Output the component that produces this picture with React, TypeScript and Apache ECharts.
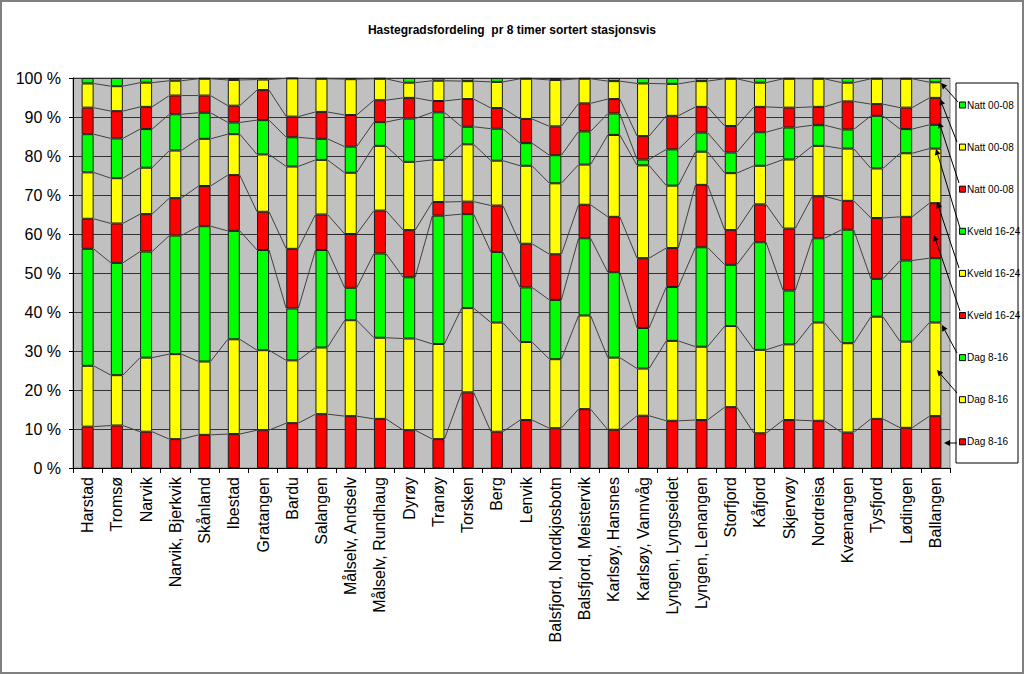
import React, { useEffect, useRef } from "react";
import * as echarts from "echarts";

const categories = [
  "Harstad", "Tromsø", "Narvik", "Narvik, Bjerkvik", "Skånland", "Ibestad", "Gratangen", "Bardu",
  "Salangen", "Målselv, Andselv", "Målselv, Rundhaug", "Dyrøy", "Tranøy", "Torsken", "Berg", "Lenvik",
  "Balsfjord, Nordkjosbotn", "Balsfjord, Meistervik", "Karlsøy, Hansnes", "Karlsøy, Vannvåg",
  "Lyngen, Lyngseidet", "Lyngen, Lenangen", "Storfjord", "Kåfjord", "Skjervøy", "Nordreisa",
  "Kvænangen", "Tysfjord", "Lødingen", "Ballangen",
];

const dagRed = [10.6, 10.9, 9.3, 7.4, 8.5, 8.7, 9.7, 11.5, 13.8, 13.3, 12.6, 9.7, 7.4, 19.4, 9.3, 12.3, 10.2, 15.1, 9.8, 13.4, 12.1, 12.3, 15.6, 8.9, 12.3, 12.1, 9.1, 12.6, 10.3, 13.3];
const dagYellow = [15.6, 12.9, 19.0, 21.8, 18.8, 24.3, 20.5, 16.1, 17.1, 24.6, 20.8, 23.5, 24.4, 21.6, 28.0, 20.0, 17.7, 24.0, 18.5, 12.1, 20.5, 18.8, 20.8, 21.4, 19.4, 25.2, 22.9, 26.2, 22.1, 24.0];
const dagGreen = [30.0, 28.8, 27.2, 30.4, 34.7, 27.8, 25.7, 13.3, 25.0, 8.3, 21.6, 15.7, 32.9, 24.1, 18.1, 14.0, 15.2, 19.8, 21.9, 10.4, 13.8, 25.5, 15.7, 27.6, 13.8, 21.6, 29.1, 9.7, 20.8, 16.5];
const kveldRed = [7.7, 10.1, 9.6, 9.6, 10.3, 14.3, 9.8, 15.3, 9.1, 13.8, 11.0, 12.1, 3.5, 3.2, 11.9, 11.2, 11.7, 8.6, 14.2, 17.9, 10.0, 16.0, 8.9, 9.7, 15.9, 10.8, 7.4, 15.6, 11.2, 14.1];
const kveldYellow = [11.9, 11.6, 11.9, 12.2, 12.1, 10.5, 14.7, 21.1, 14.0, 15.7, 16.6, 17.5, 10.8, 14.7, 11.5, 20.0, 18.2, 10.3, 21.0, 23.8, 16.0, 8.5, 14.6, 9.9, 17.7, 12.9, 13.4, 12.7, 16.3, 14.0];
const kveldGreen = [9.8, 10.2, 9.9, 9.3, 6.7, 3.0, 8.8, 7.5, 5.4, 6.7, 6.1, 11.1, 12.2, 4.5, 8.2, 5.8, 7.2, 8.5, 5.5, 1.5, 9.3, 4.9, 5.3, 8.6, 8.2, 5.3, 4.9, 13.5, 6.2, 6.1];
const nattRed = [6.8, 7.0, 5.7, 4.8, 4.4, 4.3, 7.7, 5.3, 6.9, 8.1, 5.6, 5.3, 2.9, 7.1, 5.3, 6.2, 7.4, 7.2, 3.7, 6.0, 8.6, 6.6, 6.8, 6.5, 5.1, 4.7, 7.2, 3.0, 5.5, 6.9];
const nattYellow = [6.2, 6.4, 6.2, 3.8, 4.3, 6.6, 2.7, 9.8, 8.5, 9.2, 5.5, 3.9, 5.2, 4.6, 6.7, 10.3, 11.9, 6.3, 4.6, 13.5, 8.2, 6.6, 12.1, 6.2, 7.4, 7.2, 4.8, 6.5, 7.4, 4.0];
const nattGreen = [1.4, 2.1, 1.2, 0.7, 0.2, 0.5, 0.4, 0.1, 0.2, 0.3, 0.2, 1.2, 0.7, 0.8, 1.0, 0.2, 0.5, 0.2, 0.8, 1.4, 1.5, 0.8, 0.2, 1.2, 0.2, 0.2, 1.2, 0.2, 0.2, 1.1];

const yTicks = [0, 10, 20, 30, 40, 50, 60, 70, 80, 90, 100];

const RED = "#FF0000";
const YELLOW = "#FFFF00";
const GREEN = "#00FF00";
const FONT = "'Liberation Sans', Arial, sans-serif";
const BAR_W = 12;

const seriesDefs = [
  { name: "Dag 8-16", key: "dagRed", data: dagRed, color: RED },
  { name: "Dag 8-16", key: "dagYellow", data: dagYellow, color: YELLOW },
  { name: "Dag 8-16", key: "dagGreen", data: dagGreen, color: GREEN },
  { name: "Kveld 16-24", key: "kveldRed", data: kveldRed, color: RED },
  { name: "Kveld 16-24", key: "kveldYellow", data: kveldYellow, color: YELLOW },
  { name: "Kveld 16-24", key: "kveldGreen", data: kveldGreen, color: GREEN },
  { name: "Natt 00-08", key: "nattRed", data: nattRed, color: RED },
  { name: "Natt 00-08", key: "nattYellow", data: nattYellow, color: YELLOW },
  { name: "Natt 00-08", key: "nattGreen", data: nattGreen, color: GREEN },
];

// cumulative tops of each stacked series (for Excel-style series lines)
const cumLevels: number[][] = [];
{
  const run = categories.map(() => 0);
  seriesDefs.forEach((s, k) => {
    s.data.forEach((v, i) => (run[i] += v));
    if (k < seriesDefs.length - 1) cumLevels.push(run.slice());
  });
}

function arrow(x1: number, y1: number, x2: number, y2: number) {
  const ang = Math.atan2(y2 - y1, x2 - x1);
  const L = 6, W = 3;
  const bx = x2 - L * Math.cos(ang), by = y2 - L * Math.sin(ang);
  const px = -Math.sin(ang) * W, py = Math.cos(ang) * W;
  return [
    { type: "line", shape: { x1, y1, x2: bx, y2: by }, style: { stroke: "#000", lineWidth: 1 }, z: 50 },
    {
      type: "polygon",
      shape: { points: [[x2, y2], [bx + px, by + py], [bx - px, by - py]] },
      style: { fill: "#000" },
      z: 50,
    },
  ];
}

export default function App() {
  const ref = useRef<HTMLDivElement>(null);
  useEffect(() => {
    if (!ref.current) return;
    const chart = echarts.init(ref.current, undefined, { renderer: "svg" });

    const legendEntries = [...seriesDefs].reverse();
    const legendTop = 105;
    const legendStep = 42.1;
    const legendChildren: any[] = [
      { type: "rect", shape: { x: 956, y: 83, width: 62, height: 380 }, style: { fill: "#fff", stroke: "#000", lineWidth: 1 } },
    ];
    legendEntries.forEach((s, j) => {
      const cy = legendTop + j * legendStep;
      legendChildren.push({
        type: "rect",
        shape: { x: 959.5, y: cy - 3, width: 6, height: 6 },
        style: { fill: s.color, stroke: "#000", lineWidth: 1 },
      });
      legendChildren.push({
        type: "text",
        x: 967,
        y: cy,
        style: { text: s.name, fontSize: 10, fontFamily: FONT, fill: "#000", verticalAlign: "middle", align: "left" },
      });
    });

    const arrows = [
      [958, 102, 941, 83],
      [957, 142, 940, 99],
      [959, 183, 939, 122],
      [960, 228, 936, 149],
      [959, 268, 937, 202],
      [960, 311, 934, 235],
      [957, 353, 942, 325],
      [957, 393, 937, 370],
      [957, 443, 944, 443],
    ].flatMap(([a, b, c, d]) => arrow(a, b, c, d));

    const option: any = {
      animation: false,
      backgroundColor: "#ffffff",
      textStyle: { fontFamily: FONT },
      title: {
        text: "Hastegradsfordeling  pr 8 timer sortert stasjonsvis",
        left: "center",
        top: 19,
        textStyle: { fontSize: 12, fontWeight: "bold", color: "#000", fontFamily: FONT },
      },
      grid: {
        left: 73,
        right: 74,
        top: 78,
        bottom: 206,
        show: true,
        backgroundColor: "#C0C0C0",
        borderColor: "#808080",
        borderWidth: 1,
      },
      xAxis: {
        type: "category",
        data: categories,
        axisLine: { show: true, lineStyle: { color: "#000", width: 1 } },
        axisTick: { show: true, length: 5, lineStyle: { color: "#000" } },
        axisLabel: { rotate: 90, interval: 0, fontSize: 16, color: "#000", margin: 9, fontFamily: FONT },
      },
      yAxis: {
        type: "value",
        min: yTicks[0],
        max: yTicks[yTicks.length - 1],
        interval: yTicks[1] - yTicks[0],
        axisLine: { show: true, lineStyle: { color: "#000", width: 1 } },
        axisTick: { show: true, length: 4, lineStyle: { color: "#000" } },
        axisLabel: { formatter: "{value} %", fontSize: 16, color: "#000", margin: 12, fontFamily: FONT },
        splitLine: { show: true, lineStyle: { color: "#333333", width: 1 } },
      },
      series: [
        ...seriesDefs.map((s) => ({
          name: s.name,
          type: "bar",
          stack: "total",
          barWidth: BAR_W,
          data: s.data,
          itemStyle: { color: s.color, borderColor: "#1a1a1a", borderWidth: 1 },
          emphasis: { disabled: true },
          z: 3,
        })),
        {
          type: "custom",
          name: "serieslinjer",
          z: 2,
          silent: true,
          data: categories.slice(0, -1).map((_, i) => [i, 0]),
          renderItem: (params: any, api: any) => {
            const i = api.value(0);
            const children = cumLevels.map((lev) => {
              const p0 = api.coord([i, lev[i]]);
              const p1 = api.coord([i + 1, lev[i + 1]]);
              return {
                type: "line",
                shape: { x1: p0[0] + BAR_W / 2, y1: p0[1], x2: p1[0] - BAR_W / 2, y2: p1[1] },
                style: { stroke: "#404040", lineWidth: 1 },
              };
            });
            return { type: "group", children };
          },
        },
      ],
      graphic: [
        { type: "rect", shape: { x: 1, y: 1, width: 1022, height: 672 }, style: { fill: "none", stroke: "#808080", lineWidth: 2 }, z: 100 },
        { type: "group", children: legendChildren, z: 40 },
        ...arrows,
      ],
    };
    chart.setOption(option);
    return () => chart.dispose();
  }, []);
  return <div ref={ref} style={{ position: "absolute", left: 0, top: 0, width: 1024, height: 674 }} />;
}
